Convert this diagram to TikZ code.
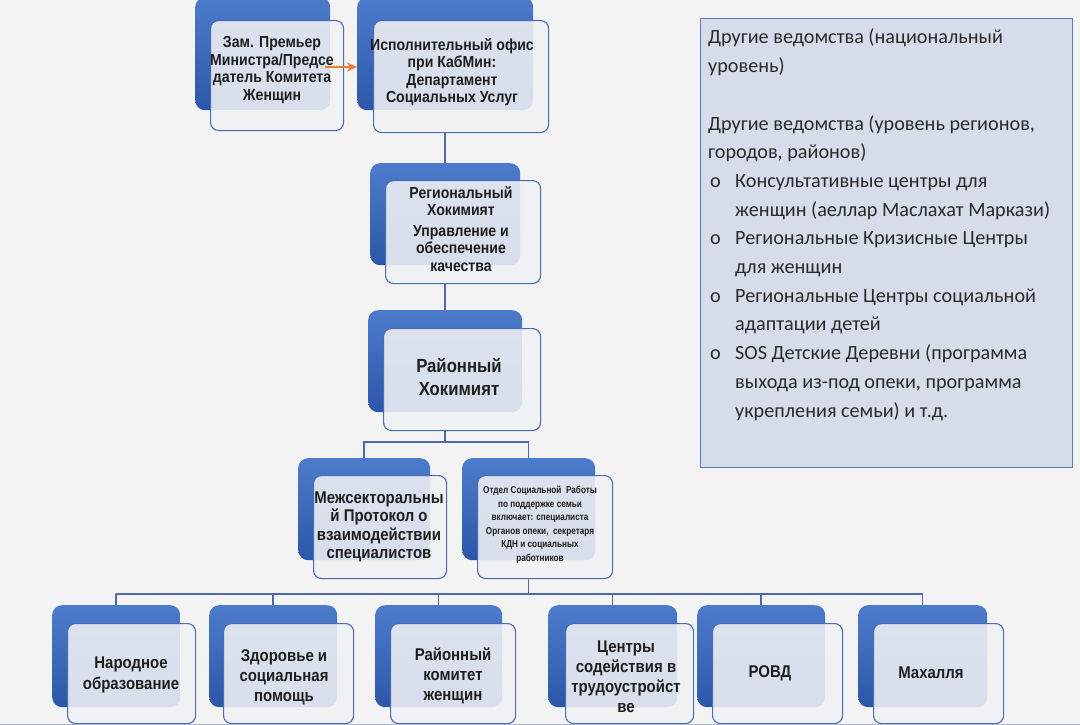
\documentclass[tikz,border=0pt]{standalone}
\usepackage{fontspec}
\usetikzlibrary{calc,arrows.meta}
\setmainfont{Liberation Sans}
\newfontfamily\bxfont{Liberation Sans}[FakeStretch=0.88]
\newfontfamily\smfont{Liberation Sans}[FakeStretch=0.82]
\newfontfamily\panelfont{Carlito}
\definecolor{bgc}{HTML}{F3F3F3}
\definecolor{bbtop}{HTML}{4D7BCB}
\definecolor{bbbot}{HTML}{2C57A8}
\definecolor{fbfill}{HTML}{F0F1F4}
\definecolor{fbline}{HTML}{4B6CB3}
\definecolor{lineblue}{HTML}{5069A6}
\definecolor{arrorange}{HTML}{ED7D31}
\definecolor{panelfill}{HTML}{D7DCEA}
\definecolor{panelline}{HTML}{5F78BE}
\definecolor{txt}{HTML}{1E1E1E}
\definecolor{ptxt}{HTML}{2A2A2A}
\definecolor{edgeline}{HTML}{AAB5D0}
\tikzset{
  backbox/.style={rounded corners=10pt, top color=bbtop, bottom color=bbbot, draw=none, anchor=north west, inner sep=0pt},
  frontbox/.style={rounded corners=8pt, fill=fbfill, fill opacity=0.88, draw=fbline, line width=1.1pt, anchor=north west, inner sep=0pt},
  boxtext/.style={align=center, text=txt, font=\bxfont\bfseries\fontsize{16}{17.5}\selectfont, inner sep=0pt},
  conn/.style={draw=lineblue, line width=1.5pt},
}
\begin{document}
\begin{tikzpicture}[x=1pt,y=-1pt]
\useasboundingbox (0,0) rectangle (1080,725);
\clip (0,0) rectangle (1080,725);
\fill[bgc] (0,0) rectangle (1080,725);

% top row
\node[backbox, minimum width=135pt, minimum height=113pt] (b1) at (195,-3) {};
\node[frontbox, minimum width=133pt, minimum height=110pt] (f1) at (210,20) {};
\node[backbox, minimum width=176pt, minimum height=113pt] (b2) at (357,-3) {};
\node[frontbox, minimum width=175pt, minimum height=112pt] (f2) at (373,20) {};
% region
\node[backbox, minimum width=150pt, minimum height=102pt] (b3) at (370,163) {};
\node[frontbox, minimum width=155pt, minimum height=103pt] (f3) at (385,180) {};
% district
\node[backbox, minimum width=154pt, minimum height=102pt] (b4) at (368,310) {};
\node[frontbox, minimum width=157pt, minimum height=102pt] (f4) at (383,328) {};
% middle pair
\node[backbox, minimum width=132pt, minimum height=102pt] (b5) at (298,458) {};
\node[frontbox, minimum width=133pt, minimum height=103pt] (f5) at (313,475) {};
\node[backbox, minimum width=133pt, minimum height=102pt] (b6) at (462,458) {};
\node[frontbox, minimum width=135pt, minimum height=103pt] (f6) at (477,475) {};
% bottom row
\node[backbox, minimum width=128pt, minimum height=102pt] (bA) at (52,605) {};
\node[frontbox, minimum width=128pt, minimum height=100pt] (fA) at (67,623) {};
\node[backbox, minimum width=128pt, minimum height=102pt] (bB) at (209,605) {};
\node[frontbox, minimum width=130pt, minimum height=100pt] (fB) at (223,623) {};
\node[backbox, minimum width=127pt, minimum height=102pt] (bC) at (375,605) {};
\node[frontbox, minimum width=125pt, minimum height=100pt] (fC) at (390,623) {};
\node[backbox, minimum width=129pt, minimum height=102pt] (bD) at (548,605) {};
\node[frontbox, minimum width=128pt, minimum height=100pt] (fD) at (565,623) {};
\node[backbox, minimum width=128pt, minimum height=102pt] (bE) at (697,605) {};
\node[frontbox, minimum width=130pt, minimum height=100pt] (fE) at (712,623) {};
\node[backbox, minimum width=129pt, minimum height=102pt] (bF) at (858,605) {};
\node[frontbox, minimum width=130pt, minimum height=100pt] (fF) at (873,623) {};

% connectors
\draw[conn] (b3.north |- f2.south) -- (b3.north);
\draw[conn] (b4.north |- f3.south) -- (b4.north);
\coordinate (j1) at ($(b4.north |- f4.south)+(0,11)$);
\draw[conn] (b4.north |- f4.south) -- (j1);
\draw[conn] (b5.north) -- (b5.north |- j1) -- (b6.north |- j1) -- (b6.north);
\coordinate (j2) at ($(b6.north |- f6.south)+(0,15)$);
\draw[conn] (b6.north |- f6.south) -- (j2);
\draw[conn] (bA.north |- j2) -- (bF.north |- j2);
\foreach \n in {A,B,C,D,E,F} \draw[conn] (b\n.north |- j2) -- (b\n.north);

% texts
\node[boxtext] (t1) at (272,70) {Зам. Премьер\\Министра/Предсе\\датель Комитета\\Женщин};
\node[boxtext] (t2) at (452,72) {Исполнительный офис\\при КабМин:\\Департамент\\Социальных Услуг};
\node[boxtext] (t3) at (461,229) {Региональный\\Хокимият\\[3pt]Управление и\\обеспечение\\качества};
\node[boxtext, font=\bxfont\bfseries\fontsize{19}{23}\selectfont] (t4) at (459,377) {Районный\\Хокимият};
\node[boxtext, font=\bxfont\bfseries\fontsize{17}{18.5}\selectfont] (t5) at (379,527) {Межсекторальны\\й Протокол о\\взаимодействии\\специалистов};
\node[boxtext, font=\smfont\bfseries\fontsize{10}{13.5}\selectfont] (t6) at (540,525) {Отдел Социальной~~Работы\\по поддержке семьи\\включает: специалиста\\Органов опеки,~~секретаря\\КДН и социальных\\работников};
\node[boxtext, font=\bxfont\bfseries\fontsize{17}{21}\selectfont] (tA) at (131,675) {Народное\\образование};
\node[boxtext, font=\bxfont\bfseries\fontsize{17}{20}\selectfont] (tB) at (284,677) {Здоровье и\\социальная\\помощь};
\node[boxtext, font=\bxfont\bfseries\fontsize{17}{20}\selectfont] (tC) at (453,676) {Районный\\комитет\\женщин};
\node[boxtext, font=\bxfont\bfseries\fontsize{17}{20}\selectfont] (tD) at (626,677) {Центры\\содействия в\\трудоустройст\\ве};
\node[boxtext, font=\bxfont\bfseries\fontsize{17}{20}\selectfont] (tE) at (770,673) {РОВД};
\node[boxtext, font=\bxfont\bfseries\fontsize{17}{20}\selectfont] (tF) at (931,673) {Махалля};

% orange arrow
\coordinate (as) at (325,67);
\draw[draw=arrorange, line width=2.6pt, -{Stealth[length=10pt,width=9pt]}] (as) -- (b2.west |- as);

% right panel
\node[draw=panelline, fill=panelfill, line width=1.4pt, anchor=north west, minimum width=372pt, minimum height=449pt, inner sep=0pt] (panel) at (700,18) {};
\node[anchor=north west, align=left, text=ptxt, inner sep=0pt, font=\panelfont\fontsize{20.2}{28.7}\selectfont] (ptext) at (708,29) {%
Другие ведомства (национальный\\
уровень)\\
\mbox{}\\
Другие ведомства (уровень регионов,\\
городов, районов)\\
\makebox[27pt][l]{\hspace{2pt}o}Консультативные центры для\\
\hspace*{27pt}женщин (аеллар Маслахат Маркази)\\
\makebox[27pt][l]{\hspace{2pt}o}Региональные Кризисные Центры\\
\hspace*{27pt}для женщин\\
\makebox[27pt][l]{\hspace{2pt}o}Региональные Центры социальной\\
\hspace*{27pt}адаптации детей\\
\makebox[27pt][l]{\hspace{2pt}o}SOS Детские Деревни (программа\\
\hspace*{27pt}выхода из-под опеки, программа\\
\hspace*{27pt}укрепления семьи) и т.д.};

% bottom edge line
\draw[edgeline, line width=1pt] (0,724) -- (1080,724);
\end{tikzpicture}
\end{document}
